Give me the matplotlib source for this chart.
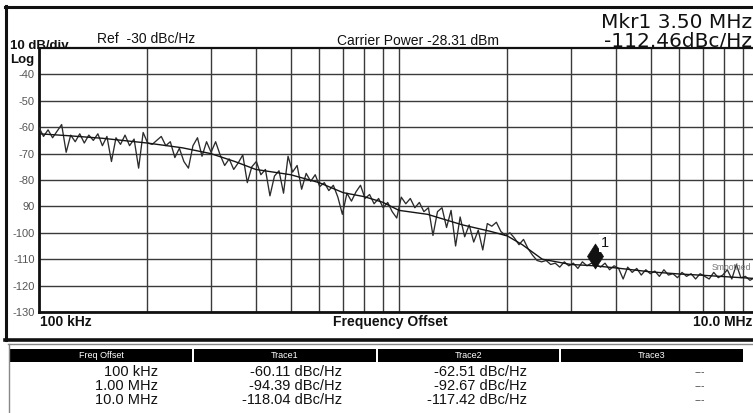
import numpy as np
import matplotlib
matplotlib.use('Agg')
import matplotlib.pyplot as plt
from matplotlib.patches import Rectangle
from matplotlib.lines import Line2D
from matplotlib.path import Path
from matplotlib.ticker import LogLocator, NullFormatter, NullLocator
import matplotlib.transforms as mtransforms

W, H = 753, 413
plt.rcParams['font.family'] = ['Liberation Sans', 'DejaVu Sans']

# ---------------- data ----------------
sweep_start_hz = 100e3
sweep_stop_hz = 10e6

# Trace1 (raw, noisy) - sweep points
trace1_db = [
    -60.1, -63.5, -61.0, -64.0, -61.5, -59.0, -69.5, -63.0, -65.5, -62.5,
    -66.0, -63.0, -65.0, -62.5, -67.0, -63.5, -73.0, -64.0, -66.5, -63.0,
    -67.0, -64.5, -75.5, -62.0, -66.0, -66.5, -65.0, -63.5, -67.0, -65.5,
    -71.5, -68.0, -73.0, -75.5, -67.0, -64.0, -71.0, -65.5, -69.5, -65.5,
    -70.5, -74.5, -72.0, -76.0, -73.5, -70.5, -81.0, -75.0, -73.0, -78.0,
    -76.0, -86.0, -78.5, -76.5, -85.0, -71.0, -77.0, -74.5, -83.5, -77.5,
    -80.5, -78.0, -82.5, -81.0, -84.0, -82.0, -86.5, -93.0, -85.0, -88.0,
    -84.5, -82.0, -87.0, -85.5, -89.0, -87.0, -90.5, -88.5, -92.0, -94.4,
    -86.5, -89.0, -87.0, -90.5, -88.5, -92.0, -90.5, -101.0, -92.0, -90.5,
    -98.0, -91.5, -105.0, -94.0, -101.5, -97.0, -103.5, -99.0, -106.5, -96.5,
    -97.5, -96.0, -99.5, -101.0, -100.0, -102.0, -104.5, -102.5, -106.0, -108.5,
    -110.5, -111.0, -110.5, -112.0, -111.5, -113.0, -111.0, -112.5, -111.5, -113.5,
    -111.0, -112.5, -111.5, -112.0, -113.0, -111.5, -114.0, -112.5, -113.5, -117.5,
    -113.0, -115.0, -113.5, -116.0, -114.0, -115.5, -114.5, -116.5, -114.0, -116.0,
    -115.5, -117.0, -115.0, -116.5, -115.5, -117.5, -115.5, -116.5, -117.5, -115.0,
    -117.0, -116.0, -114.0, -117.5, -112.0, -117.0, -116.5, -118.0, -117.0, -118.0,
]

# Trace2 (smoothed)
trace2_freq_hz = [100e3, 120e3, 150e3, 200e3, 250e3, 300e3, 350e3, 400e3, 500e3,
                  600e3, 700e3, 800e3, 900e3, 1.0e6, 1.2e6, 1.5e6, 1.8e6, 2.0e6,
                  2.2e6, 2.5e6, 3.0e6, 3.5e6, 4.0e6, 5.0e6, 6.0e6, 7.0e6, 8.0e6, 10.0e6]
trace2_db = [-62.5, -63.2, -64.2, -66.0, -67.8, -70.0, -73.0, -76.0, -78.0,
             -81.0, -84.8, -86.3, -88.4, -91.5, -93.0, -97.0, -99.5, -101.2,
             -104.5, -110.0, -112.0, -112.5, -113.3, -114.8, -115.6, -116.1, -116.6, -117.4]

marker_freq_hz = [3.5e6]
marker_db = [-112.46]

y_tick_values = [-40, -50, -60, -70, -80, -90, -100, -110, -120, -130]
y_tick_labels = ['-40', '-50', '-60', '-70', '-80', '90', '-100', '-110', '-120', '-130']

table_columns = ['Freq Offset', 'Trace1', 'Trace2', 'Trace3']
table_freqs = ['100 kHz', '1.00 MHz', '10.0 MHz']
table_trace1 = ['-60.11 dBc/Hz', '-94.39 dBc/Hz', '-118.04 dBc/Hz']
table_trace2 = ['-62.51 dBc/Hz', '-92.67 dBc/Hz', '-117.42 dBc/Hz']
table_trace3 = ['---', '---', '---']

# ---------------- figure ----------------
fig = plt.figure(figsize=(W / 100, H / 100), dpi=100)
fig.patch.set_facecolor('white')


def fx(x):
    return x / W


def fy(y):
    return 1 - y / H


def ftext(x, y, s, **kw):
    kw.setdefault('color', '#111111')
    return fig.text(fx(x), fy(y), s, **kw)


def fline(xs, ys, **kw):
    fig.add_artist(Line2D([fx(v) for v in xs], [fy(v) for v in ys],
                          transform=fig.transFigure, **kw))


def frect(x0, y0, x1, y1, **kw):
    fig.add_artist(Rectangle((fx(x0), fy(y1)), (x1 - x0) / W, (y1 - y0) / H,
                             transform=fig.transFigure, **kw))


# outer frame of the plot window
fline([5, 760], [6.5, 6.5], color='#111111', lw=2.2)
fline([6, 6], [5.5, 340], color='#111111', lw=2.2)
fline([5, 760], [339.5, 339.5], color='#111111', lw=2.6)
fline([8, 760], [343.5, 343.5], color='#888888', lw=1.0)
fline([8.5, 8.5], [343.5, 413], color='#888888', lw=1.0)

# main axes
ax = fig.add_axes([fx(39), fy(312), (759 - 39) / W, (312 - 48) / H])
ax.set_facecolor('white')
freqs = np.geomspace(sweep_start_hz, sweep_stop_hz, len(trace1_db))
ax.plot(freqs, trace1_db, color='#2b2b2b', lw=0.95, zorder=3)
ax.plot(trace2_freq_hz, trace2_db, color='#151515', lw=1.0, zorder=4)
ax.set_xscale('log')
ax.set_xlim(sweep_start_hz, sweep_stop_hz)
ax.set_ylim(-130, -30)
ax.xaxis.set_major_locator(LogLocator(base=10, subs=tuple(range(1, 10)), numticks=30))
ax.xaxis.set_major_formatter(NullFormatter())
ax.xaxis.set_minor_locator(NullLocator())
ax.set_yticks(y_tick_values)
ax.set_yticklabels(y_tick_labels)
ax.tick_params(axis='y', length=0, pad=3, labelsize=8, labelcolor='#555555')
ax.tick_params(axis='x', length=0)
ax.grid(True, which='major', color='#3a3a3a', lw=1.0, zorder=1)
ax.set_axisbelow(True)
for side, lw in (('left', 2.0), ('bottom', 2.0), ('top', 1.6)):
    ax.spines[side].set_linewidth(lw)
    ax.spines[side].set_color('#111111')
ax.spines['right'].set_visible(False)

# marker: tall diamond sitting above the marked point
diamond = Path([(0, 1), (0.64, 0), (0, -1), (-0.64, 0), (0, 1)],
               [Path.MOVETO, Path.LINETO, Path.LINETO, Path.LINETO, Path.CLOSEPOLY])
up = mtransforms.ScaledTranslation(0, 0.10, fig.dpi_scale_trans)
ax.plot(marker_freq_hz, marker_db, linestyle='none', marker=diamond, ms=18,
        markerfacecolor='#111111', markeredgecolor='#111111', markeredgewidth=0.5,
        transform=ax.transData + up, zorder=6, clip_on=False)
ax.annotate('1', xy=(marker_freq_hz[0], marker_db[0]), xytext=(10, 23),
            textcoords='offset pixels', fontsize=10.5, color='#111111',
            ha='center', va='center', zorder=7,
            bbox=dict(boxstyle='square,pad=0.15', fc='white', ec='none'))
ftext(712, 268, 'Smoothed', fontsize=6.2, color='#777777', ha='left', va='center', zorder=5)

# header texts
ftext(10, 49, '10 dB/div', fontsize=9.5, fontweight='bold', va='baseline')
ftext(10, 63, 'Log', fontsize=9.5, fontweight='bold', va='baseline')
ftext(97, 43, 'Ref  -30 dBc/Hz', fontsize=10, va='baseline')
ftext(418, 45, 'Carrier Power -28.31 dBm', fontsize=10, va='baseline', ha='center')
ftext(752, 28, 'Mkr1 3.50 MHz', fontsize=14.5, va='baseline', ha='right',
      family=['DejaVu Sans'])
ftext(752, 47, '-112.46dBc/Hz', fontsize=14.5, va='baseline', ha='right',
      family=['DejaVu Sans'])

# x axis texts
ftext(40, 322, '100 kHz', fontsize=10, fontweight='bold', va='center')
ftext(390, 322, 'Frequency Offset', fontsize=10, fontweight='bold', va='center', ha='center')
ftext(752, 322, '10.0 MHz', fontsize=10, fontweight='bold', va='center', ha='right')

# table header
col_edges = [(10, 192), (194, 376), (378, 559), (561, 743)]
for (x0, x1), name in zip(col_edges, table_columns):
    frect(x0, 349, x1, 362, color='black', lw=0)
    ftext((x0 + x1) / 2, 355.5, name, fontsize=6.5, color='white', ha='center', va='center')

row_y = [372, 386, 400]
for y, a, b, c, d in zip(row_y, table_freqs, table_trace1, table_trace2, table_trace3):
    ftext(158, y, a, fontsize=10.5, ha='right', va='center')
    ftext(342, y, b, fontsize=10.5, ha='right', va='center')
    ftext(527, y, c, fontsize=10.5, ha='right', va='center')
    ftext(700, y, d, fontsize=7.5, ha='center', va='center', color='#444444')

fig.savefig('out.png', dpi=100, facecolor='white')
